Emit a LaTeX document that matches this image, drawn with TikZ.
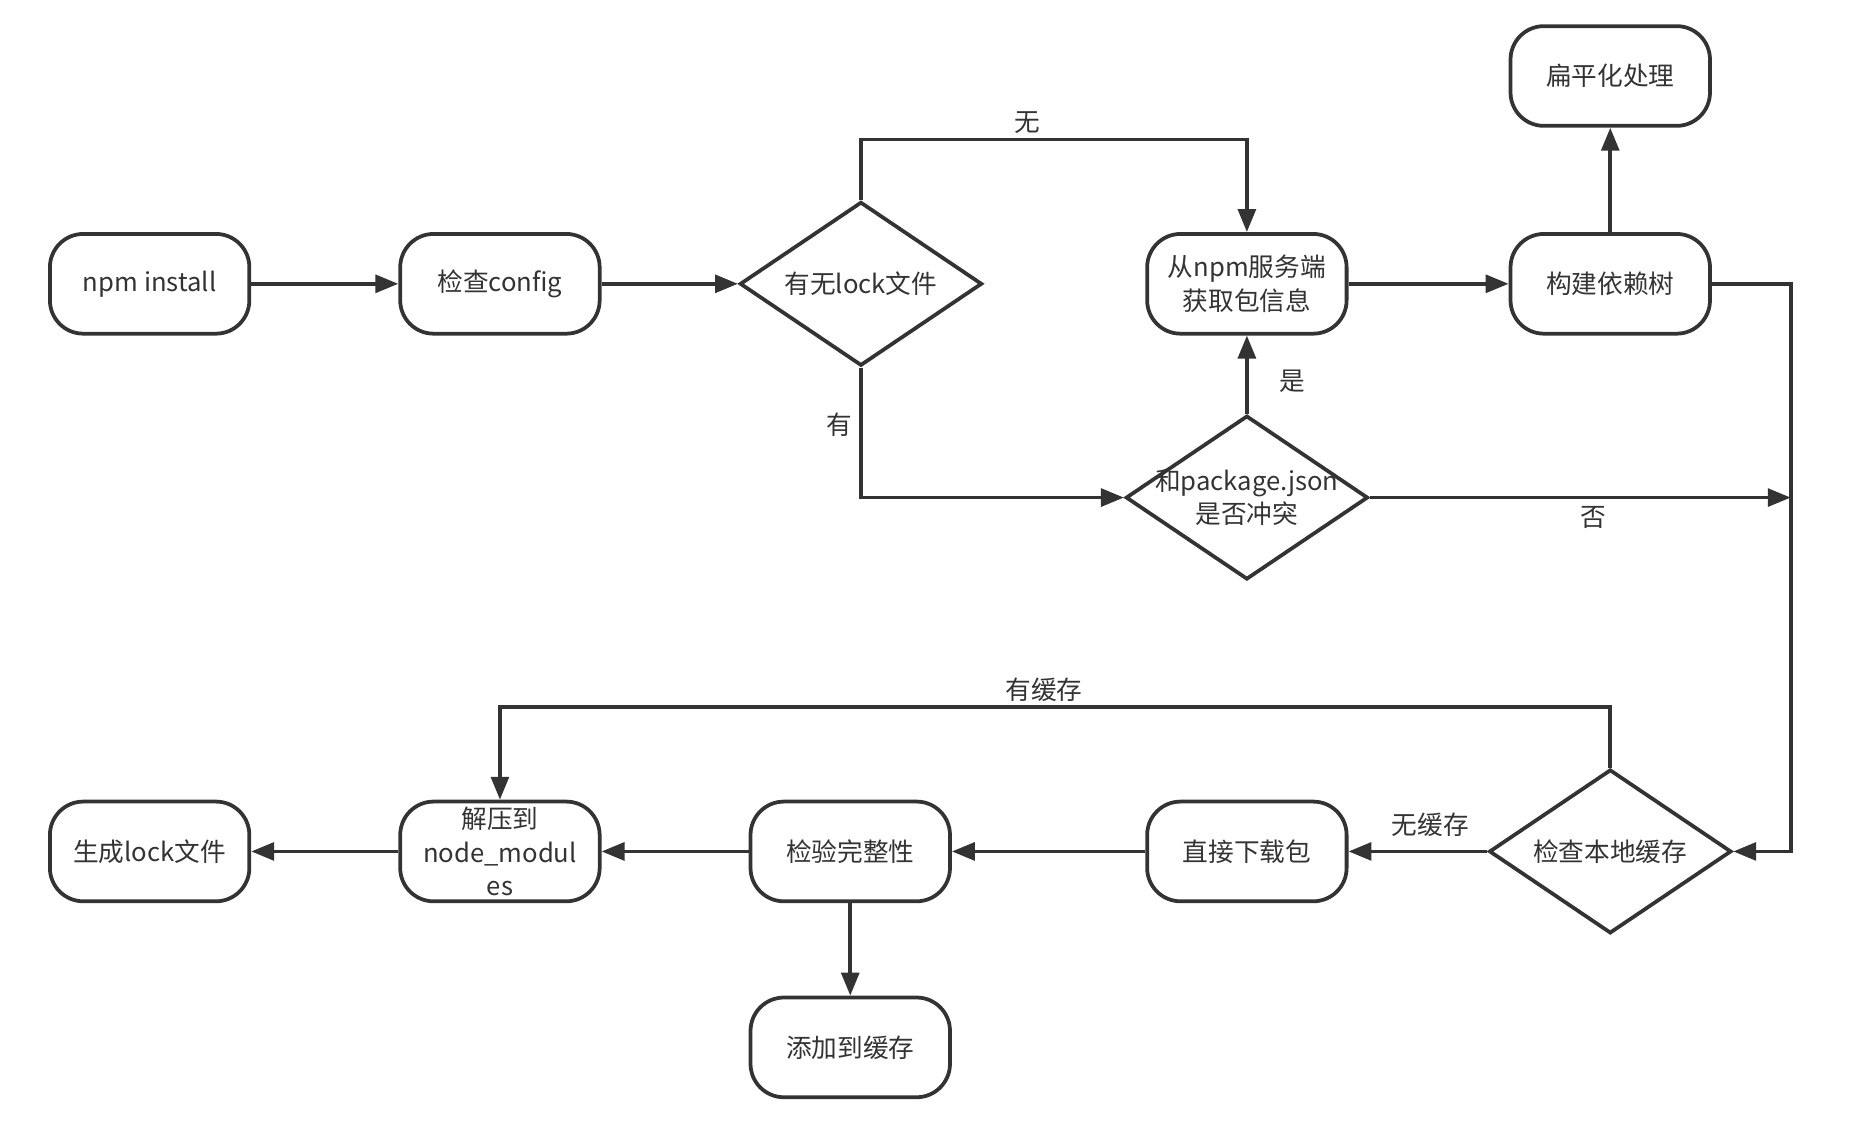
\documentclass[tikz,border=0pt]{standalone}
\usepackage{fontspec}
\setmainfont{Noto Sans CJK SC}
\usetikzlibrary{shapes.geometric,arrows.meta}
\definecolor{ink}{HTML}{333333}

\def\lw{1.8pt}

\begin{document}
\begin{tikzpicture}[x=0.02cm,y=-0.02cm,text=ink,font=\fontsize{12.3}{15.9}\selectfont,
    pbox/.style={draw=ink,line width=\lw,rounded corners=16pt,minimum width=3.36cm,minimum height=1.68cm,inner sep=0pt,align=center},
    pcond/.style={draw=ink,line width=\lw,diamond,aspect=1.48,minimum width=4.08cm,minimum height=2.76cm,inner sep=0pt,align=center},
    plink/.style={draw=ink,line width=\lw,-{Triangle[length=11pt,width=8.5pt]}}]
    \useasboundingbox (0,0) rectangle (1568,953);

    \node[pbox] (npm) at (126,239) {npm install};
    \node[pbox] (cfg) at (421,239) {检查config};
    \node[pcond] (lock) at (725,239) {有无lock文件};
    \node[pbox] (fetch) at (1050,239) {从npm服务端\\获取包信息};
    \node[pbox] (tree) at (1356,239) {构建依赖树};
    \node[pbox] (flat) at (1356,64) {扁平化处理};
    \node[pcond] (conflict) at (1050,419) {\makebox[0pt]{和package.json}\\\makebox[0pt]{是否冲突}};
    \node[pcond] (cache) at (1356,717) {检查本地缓存};
    \node[pbox] (down) at (1050,717) {直接下载包};
    \node[pbox] (check) at (716,717) {检验完整性};
    \node[pbox] (unzip) at (421,717) {解压到\\node\_modul\\es};
    \node[pbox] (lockgen) at (126,717) {生成lock文件};
    \node[pbox] (addc) at (716,882) {添加到缓存};
    \coordinate (trR) at (1508,239);

    \path[plink] (npm) -- (cfg);
    \path[plink] (cfg) -- (lock);
    \path[plink] (lock.north) -- ++(0,-51) coordinate (lkT) -- node[pos=0.43,above,yshift=-1.5pt] (tNo) {无} (lkT -| fetch.north) -- (fetch.north);
    \path[plink] (lock.south) -- node[pos=0.44,left] (tYes) {有} (lock.south |- conflict.west) -- (conflict.west);
    \path[plink] (conflict.north) -- node[pos=0.42,right,xshift=0.4cm] (tShi) {是} (fetch.south);
    \path[plink] (conflict.east) -- node[pos=0.53,below] (tFou) {否} (conflict.east -| trR);
    \path[plink] (fetch) -- (tree);
    \path[plink] (tree) -- (flat);
    \path[plink] (tree.east) -- (trR) |- (cache.east);
    \path[plink] (cache.north) -- ++(0,-51) coordinate (chT) -- node[pos=0.51,above,yshift=-1.5pt] (tHit) {有缓存} (chT -| unzip.north) -- (unzip.north);
    \path[plink] (cache.west) -- node[pos=0.41,above,yshift=3pt] (tMiss) {无缓存} (down.east);
    \path[plink] (down) -- (check);
    \path[plink] (check) -- (unzip);
    \path[plink] (unzip) -- (lockgen);
    \path[plink] (check) -- (addc);

  \end{tikzpicture}
\end{document}
